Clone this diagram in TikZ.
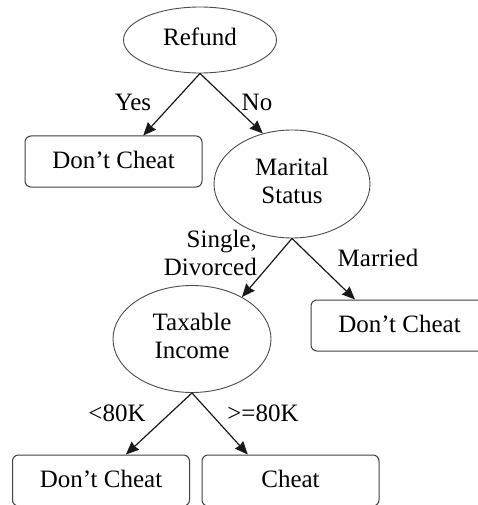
\documentclass[tikz,border=0pt]{standalone}
\usepackage{fontspec}
\setmainfont{Liberation Serif}
\usetikzlibrary{shapes.geometric,arrows.meta,calc}
\begin{document}
\begin{tikzpicture}[x=1pt,y=-1pt,
  every node/.style={font=\fontsize{25}{28}\selectfont},
  test/.style={ellipse,draw=black!70,line width=0.9pt,inner sep=0pt,align=center,text depth=7pt},
  leaf/.style={rectangle,rounded corners=6pt,draw=black!75,line width=1pt,
    minimum width=177pt,minimum height=51pt,inner sep=0pt,text depth=3pt},
  edge/.style={draw=black!90,line width=1.2pt,
    -{Stealth[inset=1pt,length=13pt,width=11pt]}},
  lbl/.style={inner sep=0pt}]
\clip (0,0) rectangle (478,505);
\fill[white] (0,0) rectangle (478,505);

% decision nodes
\node[test,minimum width=153pt,minimum height=66pt] (refund) at (200,40) {Refund};
\node[test,minimum width=156pt,minimum height=108pt] (marital) at (292,184) {Marital\\Status};
\node[test,minimum width=158pt,minimum height=107pt] (income) at (192,339) {Taxable\\Income};

% leaves
\node[leaf] (dc1) at (113.5,161.5) {Don't Cheat};
\node[leaf] (dc2) at (399.5,325.5) {Don't Cheat};
\node[leaf] (dc3) at (101,480.5) {Don't Cheat};
\node[leaf] (cheat) at (290.5,480.5) {Cheat};

% branches
\draw[edge] (refund.south) -- ($(dc1.north west)!0.667!(dc1.north east)$);
\draw[edge] (refund.south) -- (marital.120);
\draw[edge] (marital.south) -- (income.40);
\draw[edge] (marital.south) -- ($(dc2.north west)!0.25!(dc2.north east)$);
\draw[edge] (income.south) -- ($(dc3.north west)!0.64!(dc3.north east)$);
\draw[edge] (income.south) -- ($(cheat.north west)!0.26!(cheat.north east)$);

% branch labels
\node[lbl] (yes) at (133,102) {Yes};
\node[lbl] (no) at (257,102) {No};
\node[lbl,align=right,anchor=east] (single) at (257,253) {Single,\\Divorced};
\node[lbl] (married) at (378,258) {Married};
\node[lbl] (lt) at (117,413) {<80K};
\node[lbl] (ge) at (263,413) {>=80K};
\end{tikzpicture}
\end{document}
